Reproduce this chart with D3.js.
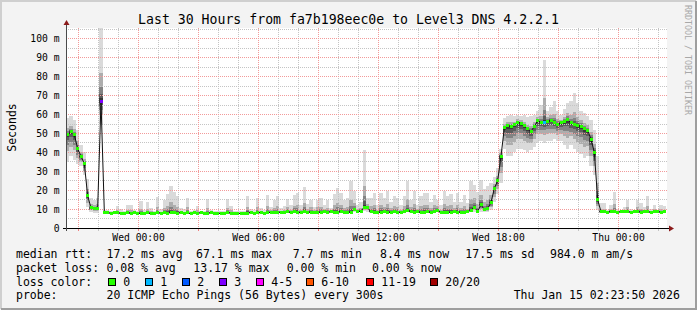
<!DOCTYPE html>
<html>
<head>
<meta charset="utf-8">
<script src="https://cdn.jsdelivr.net/npm/d3@7"></script>
<style>
  html, body { margin: 0; padding: 0; background: #f3f3f3; }
  svg { display: block; font-family: 'DejaVu Sans Mono', monospace; }
</style>
</head>
<body>
<svg id="chart" width="697" height="310"></svg>
<script>
// 30 hours of 10-minute samples (UTC), Tue 20:23:50 -> Thu 02:23:50
const startTime = Date.UTC(2026, 0, 13, 20, 23, 50);
const endTime = Date.UTC(2026, 0, 15, 2, 23, 50);
const stepMs = 10 * 60 * 1000;
const yMax = 105.8;

// median rtt, ms
const median = [
  49.5, 50.8, 49.4, 42.0, 37.9, 34.0, 17.0, 10.6, 10.4, 10.3,
  67.1, 8.3, 8.0, 7.9, 8.2, 8.0, 7.8, 7.8, 8.0, 7.8,
  8.2, 7.9, 7.6, 7.7, 8.0, 7.7, 7.8, 8.0, 7.9, 8.1,
  7.9, 8.2, 8.0, 7.9, 8.1, 7.8, 8.0, 7.7, 8.1, 7.9,
  8.0, 7.9, 7.7, 8.1, 7.8, 7.7, 7.8, 7.7, 8.1, 7.9,
  7.7, 7.8, 7.7, 7.8, 7.9, 8.2, 7.9, 8.0, 8.2, 7.9,
  8.1, 8.3, 8.0, 8.2, 8.4, 8.1, 8.5, 8.3, 8.6, 8.4,
  8.2, 8.5, 8.3, 8.4, 8.2, 8.4, 8.3, 8.5, 8.2, 8.6,
  8.3, 8.4, 8.5, 8.2, 8.4, 8.3, 9.7, 8.5, 8.9, 11.1,
  10.6, 8.6, 8.3, 8.4, 8.3, 8.5, 8.4, 8.3, 8.6, 8.4,
  8.3, 8.5, 9.3, 8.7, 8.4, 8.5, 8.3, 8.4, 8.5, 8.3,
  8.6, 9.3, 8.4, 8.3, 8.4, 8.3, 8.5, 8.3, 8.4, 8.3,
  8.5, 9.5, 11.1, 8.8, 12.3, 9.7, 10.2, 13.5, 21.0, 25.0,
  38.0, 53.0, 54.0, 53.8, 54.7, 55.9, 55.5, 54.0, 52.4, 51.1,
  53.8, 56.8, 55.9, 56.0, 56.4, 56.9, 55.9, 55.0, 55.6, 56.5,
  57.3, 55.6, 55.0, 54.3, 53.8, 52.5, 51.6, 47.0, 40.0, 15.0,
  8.6, 8.5, 8.4, 8.6, 8.5, 8.4, 8.6, 8.5, 8.7, 8.4,
  8.5, 8.6, 8.4, 8.5, 8.6, 8.4, 8.5, 8.6, 8.4, 8.5
];

// slowest ping of each sample, ms
const smokeHigh = [
  58, 59, 57, 52, 44, 40, 26, 16, 15, 16,
  105.8, 9.7, 9.7, 9.0, 8.9, 11.8, 10.0, 9.2, 12.3, 12.0,
  9.4, 9.0, 14.2, 9.3, 13.5, 10.5, 9.2, 16.5, 9.8, 15.0,
  18.0, 22.4, 18.8, 16.7, 10.5, 10.2, 15.8, 9.0, 9.5, 11.8,
  9.0, 8.8, 15.2, 9.4, 8.8, 9.0, 8.9, 9.0, 15.3, 11.8,
  9.1, 8.9, 9.0, 9.2, 16.9, 10.2, 9.4, 15.9, 10.6, 9.5,
  17.4, 11.0, 15.0, 16.7, 10.5, 11.8, 15.3, 12.0, 17.2, 18.5,
  12.0, 21.5, 12.5, 15.0, 11.0, 15.0, 15.9, 12.0, 15.0, 10.5,
  18.0, 21.0, 18.5, 15.0, 16.0, 25.0, 19.4, 12.0, 14.0, 41.0,
  16.0, 15.9, 18.5, 12.0, 18.5, 15.9, 19.4, 14.0, 16.7, 15.9,
  12.0, 16.7, 24.6, 15.0, 19.4, 12.0, 16.7, 18.5, 18.5, 14.0,
  17.6, 15.0, 12.0, 19.4, 17.0, 18.0, 14.0, 18.5, 14.0, 17.6,
  13.0, 24.6, 23.0, 19.0, 25.5, 20.6, 22.0, 24.0, 27.0, 32.0,
  42, 58, 59, 60, 59, 60, 59.5, 60, 58.5, 59,
  60, 62, 65, 89, 62, 64, 67, 62, 60, 63,
  66, 67, 71.4, 66, 62, 61, 59, 57, 52, 38,
  13.0, 13.2, 9.5, 12.0, 19.0, 10.0, 9.5, 11.0, 14.6, 10.0,
  9.5, 15.0, 13.0, 11.0, 16.7, 10.0, 12.4, 9.5, 12.4, 11.4
];

// fastest ping of each sample, ms
const smokeLow = [
  35, 38, 36, 34, 33, 28, 11, 8.5, 8.0, 8.0,
  55, 7.6, 7.5, 7.4, 7.6, 7.5, 7.3, 7.3, 7.5, 7.3,
  7.6, 7.4, 7.2, 7.2, 7.5, 7.2, 7.3, 7.5, 7.4, 7.6,
  7.4, 7.6, 7.5, 7.4, 7.6, 7.3, 7.5, 7.2, 7.6, 7.4,
  7.5, 7.4, 7.2, 7.6, 7.3, 7.2, 7.3, 7.2, 7.6, 7.4,
  7.2, 7.3, 7.2, 7.3, 7.4, 7.6, 7.4, 7.5, 7.6, 7.4,
  7.6, 7.7, 7.5, 7.6, 7.8, 7.6, 7.9, 7.7, 8.0, 7.8,
  7.6, 7.9, 7.7, 7.8, 7.6, 7.8, 7.7, 7.9, 7.6, 8.0,
  7.7, 7.8, 7.9, 7.6, 7.8, 7.7, 8.6, 7.9, 8.2, 8.8,
  8.6, 8.0, 7.7, 7.8, 7.7, 7.9, 7.8, 7.7, 8.0, 7.8,
  7.7, 7.9, 8.4, 8.0, 7.8, 7.9, 7.7, 7.8, 7.9, 7.7,
  8.0, 8.4, 7.8, 7.7, 7.8, 7.7, 7.9, 7.7, 7.8, 7.7,
  7.9, 8.4, 8.6, 8.1, 8.6, 8.3, 8.2, 9.5, 14.0, 18.0,
  24, 42, 38, 38, 40, 42, 42, 41, 40, 41,
  43, 45, 46, 45, 46, 46, 47, 46, 46, 44,
  42, 44, 42, 40, 39, 37, 38, 33, 28, 9.5,
  7.9, 7.8, 7.8, 7.9, 7.8, 7.8, 7.9, 7.8, 8.0, 7.8,
  7.9, 7.9, 7.8, 7.9, 8.0, 7.8, 7.9, 8.0, 7.8, 7.9
];

// samples with lost pings: [sample index, bucket index into lossColors]
const lossSamples = [[10, 3], [143, 1]];

const lossLabels = ['0', '1', '2', '3', '4-5', '6-10', '11-19', '20/20'];
const lossColors = ['#26ff00', '#00b8ff', '#0059ff', '#7e00ff', '#ff00ff', '#ff5500', '#ff0000', '#a10000'];

const yTicks = [0, 10, 20, 30, 40, 50, 60, 70, 80, 90, 100];
const yMinorTicks = [5, 15, 25, 35, 45, 55, 65, 75, 85, 95, 105];

const titleText = 'Last 30 Hours from fa7b198eec0e to Level3 DNS 4.2.2.1';
const rttLegend = ['median rtt:', '17.2 ms avg', '67.1 ms max', '7.7 ms min', '8.4 ms now', '17.5 ms sd', '984.0 m am/s'];
const lossLegend = ['packet loss:', '0.08 % avg', '13.17 % max', '0.00 % min', '0.00 % now'];
const probeLegend = ['probe:', '20 ICMP Echo Pings (56 Bytes) every 300s', 'Thu Jan 15 02:23:50 2026'];

// ---- layout
const W = 697, H = 310;
const plotL = 66, plotR = 666, plotT = 28, plotB = 228;
const svg = d3.select('#chart');

const x = d3.scaleUtc().domain([startTime, endTime]).range([plotL, plotR]);
const y = d3.scaleLinear().domain([0, yMax]).range([plotB, plotT]);
const crisp = v => Math.floor(v) + 0.5;
const tAt = i => new Date(startTime + i * stepMs);

// background + 3d border
svg.append('rect').attr('width', W).attr('height', H).attr('fill', '#f3f3f3');
svg.append('path').attr('d', `M1,${H - 1}V1H${W - 1}`).attr('stroke', '#cfcfcf').attr('stroke-width', 2).attr('fill', 'none');
svg.append('path').attr('d', `M1,${H - 1}H${W - 1}V1`).attr('stroke', '#9e9e9e').attr('stroke-width', 2).attr('fill', 'none');

// canvas
svg.append('rect').attr('x', plotL).attr('y', plotT).attr('width', plotR - plotL + 1).attr('height', plotB - plotT)
  .attr('fill', '#ffffff');

// smoke: graded bands between fastest and slowest ping around the median
const smokeUp = [1, 0.38, 0.2, 0.1, 0.04];
const smokeDown = [1, 0.62, 0.4, 0.22, 0.1];
const smokeGrey = ['#dadada', '#adadad', '#838383', '#5c5c5c', '#383838'];
const smoke = svg.append('g').attr('shape-rendering', 'crispEdges');
smokeGrey.forEach((c, k) => {
  smoke.append('g').selectAll('rect')
    .data(median)
    .join('rect')
    .attr('x', (d, i) => x(tAt(i)))
    .attr('width', (d, i) => x(tAt(i + 1)) - x(tAt(i)))
    .attr('y', (d, i) => y(d + (smokeHigh[i] - d) * smokeUp[k]))
    .attr('height', (d, i) => y(d - (d - smokeLow[i]) * smokeDown[k]) - y(d + (smokeHigh[i] - d) * smokeUp[k]))
    .attr('fill', c);
});

// grid (on top of the smoke, like rrdtool)
const grid = svg.append('g').attr('fill', 'none').attr('stroke-dasharray', '1,1');
const hours = d3.utcHour.range(new Date(startTime), new Date(endTime));
grid.selectAll('line.vmin').data(hours.filter(h => h.getUTCHours() % 3 !== 0)).join('line')
  .attr('x1', d => crisp(x(d))).attr('x2', d => crisp(x(d))).attr('y1', plotT).attr('y2', plotB)
  .attr('stroke', '#c4c4c4');
grid.selectAll('line.hmin').data(yMinorTicks).join('line')
  .attr('x1', plotL).attr('x2', plotR + 1).attr('y1', d => crisp(y(d))).attr('y2', d => crisp(y(d)))
  .attr('stroke', '#c4c4c4');
grid.selectAll('line.vmaj').data(hours.filter(h => h.getUTCHours() % 3 === 0)).join('line')
  .attr('x1', d => crisp(x(d))).attr('x2', d => crisp(x(d))).attr('y1', plotT).attr('y2', plotB)
  .attr('stroke', '#f29a9a');
grid.selectAll('line.hmaj').data(yTicks.filter(v => v > 0)).join('line')
  .attr('x1', plotL).attr('x2', plotR + 1).attr('y1', d => crisp(y(d))).attr('y2', d => crisp(y(d)))
  .attr('stroke', '#f29a9a');

// median: thin black trace, then loss-coloured dots per sample
const halfStep = (x(tAt(1)) - x(tAt(0))) / 2;
svg.append('path')
  .datum(median)
  .attr('d', d3.line().x((d, i) => x(tAt(i)) + halfStep).y(d => y(d)))
  .attr('fill', 'none').attr('stroke', '#111').attr('stroke-width', 1);

const lossOf = new Map(lossSamples);
svg.append('g').attr('shape-rendering', 'crispEdges').selectAll('rect')
  .data(median)
  .join('rect')
  .attr('x', (d, i) => x(tAt(i)) + 0.3)
  .attr('width', (d, i) => x(tAt(i + 1)) - x(tAt(i)) - 0.3)
  .attr('y', d => y(d) - 1.5)
  .attr('height', 3)
  .attr('fill', (d, i) => lossColors[lossOf.get(i) || 0]);

// axes
svg.append('line').attr('x1', plotL - 3).attr('x2', plotR + 4).attr('y1', plotB + 0.5).attr('y2', plotB + 0.5)
  .attr('stroke', '#000');
svg.append('line').attr('x1', plotL + 0.5).attr('x2', plotL + 0.5).attr('y1', plotB + 3).attr('y2', plotT - 4)
  .attr('stroke', '#4a4a4a');
svg.append('path').attr('d', `M${plotR + 3},${plotB - 2.5}L${plotR + 8},${plotB + 0.5}L${plotR + 3},${plotB + 3.5}Z`)
  .attr('fill', '#8b1a1a');
svg.append('path').attr('d', `M${plotL - 2.5},${plotT - 3}L${plotL + 0.5},${plotT - 8}L${plotL + 3.5},${plotT - 3}Z`)
  .attr('fill', '#8b1a1a');

// x ticks below axis
svg.append('g').selectAll('line').data(hours).join('line')
  .attr('x1', d => crisp(x(d))).attr('x2', d => crisp(x(d)))
  .attr('y1', plotB + 1).attr('y2', plotB + 3)
  .attr('stroke', d => d.getUTCHours() % 3 === 0 ? '#f08080' : '#c4c4c4');

// axis labels
const fmt = d3.utcFormat('%a %H:%M');
svg.append('g').selectAll('text')
  .data(hours.filter(h => h.getUTCHours() % 6 === 0))
  .join('text')
  .attr('x', d => x(d) + 0.5).attr('y', 241)
  .attr('text-anchor', 'middle').attr('font-size', '9.7px').attr('fill', '#000')
  .text(d => fmt(d));

svg.append('g').selectAll('text')
  .data(yTicks)
  .join('text')
  .attr('x', 59.5).attr('y', d => y(d) + 3.5)
  .attr('text-anchor', 'end').attr('font-size', '9.7px').attr('fill', '#000')
  .text(d => d === 0 ? '0' : `${d} m`);

svg.append('text')
  .attr('transform', 'translate(15.5,127.5) rotate(-90)')
  .attr('text-anchor', 'middle').attr('font-size', '11.5px').attr('fill', '#000')
  .text('Seconds');

svg.append('text')
  .attr('x', W / 2).attr('y', 24)
  .attr('text-anchor', 'middle').attr('font-size', '13.2px').attr('fill', '#000')
  .text(titleText);

svg.append('text')
  .attr('transform', 'translate(685,5) rotate(90)')
  .attr('font-size', '8.3px').attr('fill', '#a8a8a8')
  .text('RRDTOOL / TOBI OETIKER');

// legend
const legend = svg.append('g').attr('font-size', '11.5px').attr('fill', '#000');
const putRow = (items, xs, baseY) => {
  items.forEach((t, j) => {
    legend.append('text').attr('x', xs[j]).attr('y', baseY).text(t);
  });
};
putRow(rttLegend, [16, 106.5, 196, 292.7, 380, 465.3, 550], 258);
putRow(lossLegend, [16, 106.5, 193.3, 286.7, 372], 271.8);
putRow(probeLegend, [16, 106.5, 513.7], 299.4);

legend.append('text').attr('x', 16).attr('y', 285.6).text('loss color:');
const boxX = [108.5, 145.5, 182.5, 219.5, 256.5, 306.5, 366.5, 430.5];
lossLabels.forEach((lab, j) => {
  legend.append('rect')
    .attr('x', boxX[j]).attr('y', 278.5).attr('width', 7).attr('height', 7)
    .attr('fill', lossColors[j]).attr('stroke', '#000').attr('stroke-width', 1);
  legend.append('text').attr('x', boxX[j] + 14.8).attr('y', 285.6).text(lab);
});
</script>
</body>
</html>
